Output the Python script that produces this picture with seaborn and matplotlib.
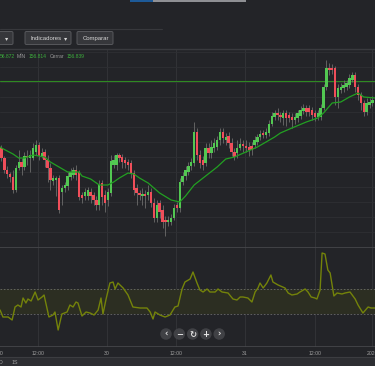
import matplotlib
matplotlib.use("Agg")
import matplotlib.pyplot as plt
import seaborn as sns
import pandas as pd
from matplotlib.patches import FancyBboxPatch, Ellipse, Rectangle
from matplotlib.lines import Line2D

# ---------------- data ----------------
open_ = [156.791,156.781,156.769,156.765,156.762,156.749,156.771,156.777,156.772,156.783,
         156.781,156.781,156.787,156.794,156.783,156.787,156.779,156.771,156.758,156.759,
         156.761,156.747,156.751,156.753,156.762,156.764,156.769,156.767,156.744,156.743,
         156.743,156.747,156.744,156.739,156.734,156.756,156.744,156.739,156.746,156.774,
         156.774,156.784,156.782,156.779,156.777,156.776,156.766,156.751,156.746,156.743,
         156.745,156.744,156.747,156.736,156.721,156.736,156.729,156.719,156.717,156.717,
         156.721,156.734,156.731,156.757,156.763,156.767,156.773,156.776,156.807,156.784,
         156.779,156.776,156.791,156.786,156.791,156.792,156.799,156.807,156.799,156.803,
         156.796,156.787,156.786,156.791,156.795,156.793,156.792,156.793,156.794,156.797,
         156.802,156.806,156.804,156.806,156.815,156.822,156.826,156.824,156.821,156.826,
         156.824,156.822,156.819,156.821,156.823,156.828,156.831,156.831,156.829,156.826,
         156.822,156.822,156.831,156.852,156.871,156.871,156.871,156.842,156.849,156.851,
         156.852,156.854,156.859,156.864,156.852,156.844,156.836,156.827,156.834,156.836]
close = [156.781,156.769,156.765,156.762,156.749,156.771,156.777,156.772,156.783,156.782,
         156.784,156.791,156.794,156.783,156.786,156.779,156.771,156.759,156.761,156.761,
         156.729,156.751,156.754,156.763,156.767,156.769,156.764,156.742,156.741,156.747,
         156.749,156.743,156.739,156.734,156.754,156.742,156.736,156.747,156.778,156.779,
         156.784,156.781,156.777,156.776,156.774,156.766,156.749,156.746,156.744,156.745,
         156.743,156.747,156.736,156.721,156.734,156.727,156.717,156.717,156.719,156.721,
         156.731,156.731,156.757,156.763,156.769,156.773,156.777,156.807,156.784,156.776,
         156.774,156.791,156.786,156.792,156.796,156.799,156.807,156.801,156.802,156.796,
         156.787,156.782,156.791,156.795,156.793,156.791,156.789,156.789,156.799,156.802,
         156.805,156.804,156.807,156.815,156.823,156.826,156.824,156.822,156.826,156.821,
         156.821,156.819,156.822,156.826,156.829,156.831,156.827,156.827,156.824,156.822,
         156.826,156.831,156.852,156.871,156.869,156.869,156.842,156.851,156.852,156.854,
         156.856,156.861,156.864,156.852,156.844,156.836,156.827,156.836,156.837,156.839]
high = [156.794,156.783,156.773,156.767,156.769,156.774,156.789,156.781,156.787,156.789,
        156.789,156.796,156.799,156.797,156.791,156.790,156.784,156.776,156.764,156.763,
        156.764,156.754,156.757,156.767,156.771,156.772,156.774,156.769,156.747,156.751,
        156.752,156.751,156.747,156.743,156.759,156.759,156.749,156.751,156.784,156.784,
        156.786,156.786,156.785,156.782,156.780,156.779,156.769,156.755,156.749,156.751,
        156.749,156.754,156.751,156.741,156.739,156.739,156.734,156.723,156.723,156.725,
        156.735,156.737,156.761,156.767,156.773,156.777,156.781,156.817,156.811,156.789,
        156.783,156.796,156.796,156.799,156.801,156.803,156.811,156.811,156.806,156.807,
        156.801,156.791,156.799,156.801,156.799,156.799,156.797,156.797,156.803,156.805,
        156.809,156.809,156.811,156.819,156.827,156.829,156.831,156.827,156.829,156.829,
        156.827,156.826,156.826,156.829,156.833,156.835,156.834,156.834,156.832,156.829,
        156.829,156.835,156.855,156.879,156.876,156.875,156.873,156.855,156.856,156.859,
        156.859,156.865,156.867,156.867,156.855,156.847,156.839,156.841,156.841,156.843]
low = [156.778,156.766,156.761,156.757,156.746,156.747,156.769,156.764,156.769,156.774,
       156.767,156.779,156.784,156.779,156.781,156.772,156.757,156.749,156.754,156.743,
       156.726,156.734,156.747,156.749,156.759,156.761,156.759,156.739,156.736,156.739,
       156.739,156.736,156.734,156.729,156.729,156.734,156.727,156.733,156.743,156.771,
       156.769,156.777,156.771,156.771,156.769,156.761,156.744,156.734,156.739,156.734,
       156.731,156.739,156.732,156.717,156.717,156.721,156.711,156.703,156.713,156.714,
       156.719,156.727,156.727,156.754,156.759,156.764,156.769,156.773,156.779,156.771,
       156.769,156.773,156.781,156.781,156.787,156.789,156.794,156.796,156.794,156.791,
       156.783,156.779,156.781,156.789,156.787,156.787,156.783,156.784,156.791,156.794,
       156.799,156.801,156.801,156.803,156.813,156.819,156.819,156.817,156.814,156.813,
       156.817,156.811,156.815,156.817,156.820,156.825,156.823,156.823,156.819,156.818,
       156.819,156.819,156.829,156.849,156.864,156.865,156.834,156.831,156.846,156.847,
       156.849,156.851,156.857,156.847,156.839,156.829,156.823,156.824,156.831,156.833]

ma_pos = [-0.5, 0, 4, 6, 8, 11, 15, 17, 20, 23, 27, 28, 31, 34, 37, 39, 41, 44, 46, 48, 51, 55,
          59, 62, 64, 67, 71, 75, 78, 81, 85, 89, 92, 95, 97, 101, 106, 110, 112, 115, 118,
          121, 124, 126, 129.9]
ma_val = [156.792, 156.791, 156.785, 156.781, 156.781, 156.784, 156.782, 156.777, 156.772,
          156.767, 156.767, 156.763, 156.760, 156.754, 156.754, 156.757, 156.761, 156.766,
          156.765, 156.761, 156.756, 156.746, 156.739, 156.737, 156.743, 156.754, 156.763,
          156.772, 156.780, 156.782, 156.787, 156.792, 156.797, 156.802, 156.806, 156.811,
          156.817, 156.821, 156.826, 156.836, 156.837, 156.842, 156.846, 156.842, 156.841]

ref_level = 156.858

osc_pos = [-0.5, 0.5, 2.3, 3.7, 4.7, 5.7, 6.8, 7.5, 8.5, 9.2, 10.3, 11.7, 12.7, 14.1, 14.8,
           16.5, 17.9, 18.6, 19.7, 21.0, 22.8, 23.8, 24.9, 25.9, 26.6, 28.0, 29.4, 30.8,
           32.2, 33.6, 34.6, 35.3, 36.3, 37.7, 38.8, 39.5, 40.5, 42.3, 44.0, 45.7, 48.2,
           50.6, 51.7, 52.7, 53.4, 55.1, 56.9, 58.6, 60.3, 61.4, 62.8, 63.8, 65.6, 66.6,
           68.0, 69.0, 70.1, 71.5, 72.5, 74.3, 75.3, 76.7, 78.8, 80.5, 81.9, 83.0, 84.0,
           85.7, 87.1, 88.2, 89.2, 89.9, 91.0, 92.3, 93.7, 94.4, 96.2, 98.6, 99.7, 101.0,
           102.8, 103.8, 105.6, 106.6, 107.7, 109.0, 109.7, 110.8, 111.5, 112.5, 113.5,
           114.3, 115.6, 116.7, 118.4, 119.5, 121.2, 123.0, 124.0, 125.7, 127.5, 128.5, 129.9]
osc_val = [-68, -124, -124, -148, -44, -28, -44, 28, -12, 20, 4, 76, 12, 36, 52,
           -124, -108, -84, -228, -100, -84, -28, -44, -4, -12, -116, -84, -92,
           -108, -68, 28, -100, 12, 148, 156, 100, 148, 108, 52, -44, -52,
           -52, -84, -140, -84, -108, -124, -108, -44, -36, 100, 156, 180, 236,
           148, 92, 76, 100, 76, 76, 100, 76, 68, 20, 12, 36, 36,
           28, -4, 76, 108, 148, 108, 148, 212, 156, 132, 108, 68, 52,
           60, 76, 100, 76, 36, 28, 20, 92, 388, 380, 252,
           228, 44, 68, 60, 68, 76, 20, -28, -92, -44, -52, -52]
osc_band = [-100, 100]

tick_pos = [-0.17, 12.7, 36.7, 60.7, 84.7, 108.9, 128.9]
tick_labels = ["00", "12:00", "30", "12:00", "31", "12:00", "2020"]

ohlc_parts = [("56.872", "g"), ("MÍN", "t"), ("156.814", "g"), ("Cerrar", "t"), ("156.839", "g")]
buttons = ["Indicadores", "Comparar"]
bottom_labels = ["D", "1S"]

# ---------------- style ----------------
BG = "#232428"
GRID = "#2e2f33"
UP = "#52c852"
DOWN = "#f04e5a"
WICK = "#6c6c6c"
MA_C = "#22a022"
OSC_C = "#74830a"
TXT = "#a0a0a0"

sns.set_theme(style="dark")
plt.rcParams["font.family"] = ["Liberation Sans", "DejaVu Sans"]

W, H = 375, 366
fig = plt.figure(figsize=(W / 100, H / 100), dpi=100, facecolor=BG)

def fx(x):
    return x / W

def fy(y):
    return 1 - y / H

ax_p = fig.add_axes([0, fy(247), 1, (247 - 49) / H])
ax_o = fig.add_axes([0, fy(347), 1, 100 / H])

idx = list(range(len(close)))
df = pd.DataFrame({"i": idx, "o": open_, "c": close, "h": high, "l": low})
df["bottom"] = df[["o", "c"]].min(axis=1)
df["height"] = (df["c"] - df["o"]).abs().clip(lower=0.0013)
df["color"] = [UP if c >= o else DOWN for o, c in zip(df["o"], df["c"])]

for ax in (ax_p, ax_o):
    ax.set_facecolor(BG)
    ax.set_xlim(-0.52, 129.9)
    for s in ax.spines.values():
        s.set_visible(False)
    ax.grid(False)
    for xv in tick_pos[1:]:
        ax.axvline(xv, color="#323337", lw=0.7, zorder=0)

# price panel
ax_p.set_ylim(156.692, 156.890)
for k in range(13):
    ax_p.axhline(156.707 + 0.015 * k, color=GRID, lw=0.6, zorder=0)
ax_p.axhline(ref_level, color="#2f8a22", lw=0.8, zorder=1.5)
ax_p.vlines(df["i"], df["l"], df["h"], color=WICK, lw=0.6, zorder=2)
ax_p.bar(df["i"], df["height"], bottom=df["bottom"], width=0.85, color=df["color"],
         linewidth=0, zorder=3)
sns.lineplot(x=ma_pos, y=ma_val, ax=ax_p, color=MA_C, lw=0.9, zorder=4, sort=False)
ax_p.set_xticks([])
ax_p.set_yticks([])
ax_p.set_xlabel("")
ax_p.set_ylabel("")

# oscillator panel
ax_o.set_ylim(-364, 436)
ax_o.axhspan(osc_band[0], osc_band[1], color="#2c2e22", lw=0, zorder=0.5)
for b in osc_band:
    ax_o.axhline(b, color="#6a6a6a", lw=0.6, ls=(0, (2, 2)), zorder=1)
ax_o.axhline(436, color="#47484c", lw=1.2, zorder=1)
ax_o.axhline(-364, color="#47484c", lw=1.2, zorder=1)
sns.lineplot(x=osc_pos, y=osc_val, ax=ax_o, color=OSC_C, lw=1.0, zorder=3, sort=False)
ax_o.set_yticks([])
ax_o.set_xticks(tick_pos)
ax_o.set_xticklabels(tick_labels, fontsize=3.7, color=TXT)
ax_o.tick_params(axis="x", length=0, pad=2.8)
ax_o.set_xlabel("")
ax_o.set_ylabel("")

# navigation buttons
nav = ["‹", "−", "↻", "+", "›"]
for k, g in enumerate(nav):
    cx = 166 + 13.3 * k
    e = Ellipse((fx(cx), fy(334)), 11.5 / W, 11.5 / H, transform=fig.transFigure,
                facecolor="#404145", edgecolor="none", zorder=10)
    fig.patches.append(e)
    fig.text(fx(cx), fy(334.3), g, ha="center", va="center", fontsize=6, color="#e6e6e6",
             fontweight="bold", family=["DejaVu Sans"], zorder=11)

# header decorations
fig.patches.append(Rectangle((fx(130), fy(2)), 23 / W, 2 / H, transform=fig.transFigure,
                             facecolor="#1d5a98", edgecolor="none"))
fig.patches.append(Rectangle((fx(153), fy(2)), 93 / W, 2 / H, transform=fig.transFigure,
                             facecolor="#8f9094", edgecolor="none"))
fig.lines.append(Line2D([0, fx(162)], [fy(28.5), fy(28.5)], transform=fig.transFigure,
                        color="#37383c", lw=0.8))
fig.lines.append(Line2D([0, 1], [fy(48.5), fy(48.5)], transform=fig.transFigure,
                        color="#393a3e", lw=1.0))

def button(x0, x1, label, arrow):
    fig.patches.append(FancyBboxPatch((fx(x0), fy(44.5)), (x1 - x0) / W, 13 / H,
                                      boxstyle="round,pad=0,rounding_size=0.004",
                                      transform=fig.transFigure, facecolor="#36373b",
                                      edgecolor="#57585c", lw=0.7))
    if label:
        fig.text(fx(x0 + 5.5), fy(38.2), label, ha="left", va="center", fontsize=4.3,
                 color="#d6d6d6")
    if arrow is not None:
        fig.text(fx(arrow), fy(38.5), "▾", ha="center", va="center", fontsize=4.6,
                 color="#d6d6d6", family=["DejaVu Sans"])

button(-3, 13, None, 7)
button(25, 71, buttons[0], 66)
button(77, 113, buttons[1], None)

# OHLC readout
xs = [0, 16.5, 29, 49.5, 67]
for (txt, kind), x in zip(ohlc_parts, xs):
    fig.text(fx(x), fy(56.5), txt, ha="left", va="center", fontsize=3.6,
             color="#3dae3d" if kind == "g" else "#9a9a9a")

# bottom bar
fig.patches.append(Rectangle((0, 0), 1, 9 / H, transform=fig.transFigure,
                             facecolor="#2d2e32", edgecolor="none"))
fig.lines.append(Line2D([0, 1], [fy(357), fy(357)], transform=fig.transFigure,
                        color="#3c3d41", lw=0.8))
fig.text(fx(-1), fy(362), bottom_labels[0], ha="left", va="center", fontsize=3.8, color=TXT)
fig.text(fx(12), fy(362), bottom_labels[1], ha="left", va="center", fontsize=3.8, color=TXT)

fig.savefig("out.png", dpi=100, facecolor=BG)
